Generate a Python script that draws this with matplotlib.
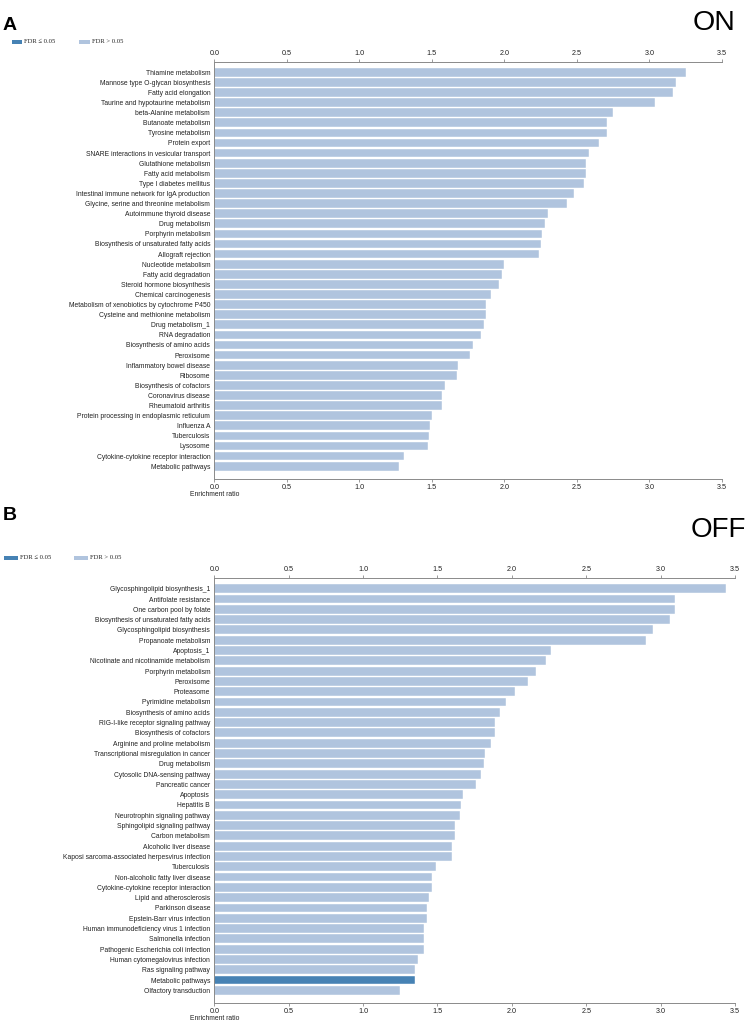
import matplotlib
matplotlib.use("Agg")
import matplotlib.pyplot as plt
from matplotlib.patches import Rectangle

# ---------------- data ----------------
on_terms = [
    "Thiamine metabolism", "Mannose type O-glycan biosynthesis", "Fatty acid elongation",
    "Taurine and hypotaurine metabolism", "beta-Alanine metabolism", "Butanoate metabolism",
    "Tyrosine metabolism", "Protein export", "SNARE interactions in vesicular transport",
    "Glutathione metabolism", "Fatty acid metabolism", "Type I diabetes mellitus",
    "Intestinal immune network for IgA production", "Glycine, serine and threonine metabolism",
    "Autoimmune thyroid disease", "Drug metabolism", "Porphyrin metabolism",
    "Biosynthesis of unsaturated fatty acids", "Allograft rejection", "Nucleotide metabolism",
    "Fatty acid degradation", "Steroid hormone biosynthesis", "Chemical carcinogenesis",
    "Metabolism of xenobiotics by cytochrome P450", "Cysteine and methionine metabolism",
    "Drug metabolism_1", "RNA degradation", "Biosynthesis of amino acids", "Peroxisome",
    "Inflammatory bowel disease", "Ribosome", "Biosynthesis of cofactors", "Coronavirus disease",
    "Rheumatoid arthritis", "Protein processing in endoplasmic reticulum", "Influenza A",
    "Tuberculosis", "Lysosome", "Cytokine-cytokine receptor interaction", "Metabolic pathways",
]
on_ratio = [
    3.25, 3.18, 3.16, 3.04, 2.75, 2.71, 2.71, 2.65, 2.58, 2.56, 2.56, 2.55, 2.48, 2.43,
    2.30, 2.28, 2.26, 2.25, 2.24, 2.00, 1.98, 1.96, 1.91, 1.87, 1.87, 1.86, 1.84, 1.78,
    1.76, 1.68, 1.67, 1.59, 1.57, 1.57, 1.50, 1.49, 1.48, 1.47, 1.31, 1.27,
]
on_sig = [False] * 40

off_terms = [
    "Glycosphingolipid biosynthesis_1", "Antifolate resistance", "One carbon pool by folate",
    "Biosynthesis of unsaturated fatty acids", "Glycosphingolipid biosynthesis",
    "Propanoate metabolism", "Apoptosis_1", "Nicotinate and nicotinamide metabolism",
    "Porphyrin metabolism", "Peroxisome", "Proteasome", "Pyrimidine metabolism",
    "Biosynthesis of amino acids", "RIG-I-like receptor signaling pathway",
    "Biosynthesis of cofactors", "Arginine and proline metabolism",
    "Transcriptional misregulation in cancer", "Drug metabolism", "Cytosolic DNA-sensing pathway",
    "Pancreatic cancer", "Apoptosis", "Hepatitis B", "Neurotrophin signaling pathway",
    "Sphingolipid signaling pathway", "Carbon metabolism", "Alcoholic liver disease",
    "Kaposi sarcoma-associated herpesvirus infection", "Tuberculosis",
    "Non-alcoholic fatty liver disease", "Cytokine-cytokine receptor interaction",
    "Lipid and atherosclerosis", "Parkinson disease", "Epstein-Barr virus infection",
    "Human immunodeficiency virus 1 infection", "Salmonella infection",
    "Pathogenic Escherichia coli infection", "Human cytomegalovirus infection",
    "Ras signaling pathway", "Metabolic pathways", "Olfactory transduction",
]
off_ratio = [
    3.44, 3.10, 3.10, 3.06, 2.95, 2.90, 2.26, 2.23, 2.16, 2.11, 2.02, 1.96, 1.92, 1.89,
    1.89, 1.86, 1.82, 1.81, 1.79, 1.76, 1.67, 1.66, 1.65, 1.62, 1.62, 1.60, 1.60, 1.49,
    1.46, 1.46, 1.44, 1.43, 1.43, 1.41, 1.41, 1.41, 1.37, 1.35, 1.35, 1.25,
]
off_sig = [False] * 38 + [True, False]

xticks = [0.0, 0.5, 1.0, 1.5, 2.0, 2.5, 3.0, 3.5]
xticklabels = ["0.0", "0.5", "1.0", "1.5", "2.0", "2.5", "3.0", "3.5"]
legend_labels = ["FDR \u2264 0.05", "FDR > 0.05"]

# ---------------- style ----------------
LIGHT = "#b0c4de"
DARK = "#4682b4"
AXC = "#8a8a8a"
TXT = "#222222"
SANS = ["Liberation Sans", "DejaVu Sans"]
SERIF = ["Liberation Serif", "DejaVu Serif"]

W, H = 748, 1025
fig = plt.figure(figsize=(W / 100, H / 100), dpi=100)


def fx(px):
    return px / W


def fy(py):
    return 1 - py / H


def panel(left, right, top, bottom, terms, vals, sig, ylim_top, ylim_bot, lab_y):
    ax = fig.add_axes([fx(left), fy(bottom), fx(right - left), (bottom - top) / H])
    n = len(terms)
    ypos = list(range(n))
    colors = [DARK if s else LIGHT for s in sig]
    ax.barh(ypos, vals, height=0.86, color=colors, edgecolor="white", linewidth=0.3)
    ax.set_xlim(0, 3.5)
    ax.set_ylim(ylim_bot, ylim_top)
    ax.set_yticks(ypos)
    ax.set_yticklabels(terms, fontsize=4.9, family=SANS, color=TXT)
    ax.set_xticks(xticks)
    ax.set_xticklabels(xticklabels, fontsize=5.2, family=SANS, color=TXT)
    ax.tick_params(axis="x", top=True, labeltop=True, bottom=True, labelbottom=True,
                   length=2.5, width=0.6, color=AXC, pad=1.0, direction="out")
    ax.tick_params(axis="y", length=0, pad=3)
    for s in ("top", "bottom", "left"):
        ax.spines[s].set_color(AXC)
        ax.spines[s].set_linewidth(0.7)
    ax.spines["right"].set_visible(False)
    ax.patch.set_alpha(0)
    fig.text(fx(left), fy(lab_y), "Enrichment ratio", fontsize=4.9, family=SANS,
             color=TXT, ha="center", va="center")
    return ax


# Panel A
panel(214.3, 722, 61.7, 479.3, on_terms, on_ratio, on_sig, -1.05, 40.3, 494.5)
# Panel B
panel(214.3, 735, 577.7, 1003, off_terms, off_ratio, off_sig, -1.07, 40.23, 1018.5)

# Panel letters and titles
fig.text(fx(3), fy(25.5), "A", fontsize=14, fontweight="bold", family=SANS,
         ha="left", va="center", color="black")
fig.text(fx(3), fy(515), "B", fontsize=14, fontweight="bold", family=SANS,
         ha="left", va="center", color="black")
fig.text(fx(736), fy(23), "ON", fontsize=20.5, family=SANS, ha="right", va="center",
         color="black")
fig.text(fx(746), fy(530), "OFF", fontsize=20, family=SANS, ha="right", va="center",
         color="black")


def legend(y, rects):
    # rects: list of (x0, x1, text_x)
    for (x0, x1, tx), col, lab in zip(rects, [DARK, LIGHT], legend_labels):
        fig.add_artist(Rectangle((fx(x0), fy(y + 2.2)), fx(x1 - x0), 4.4 / H,
                                 transform=fig.transFigure, facecolor=col,
                                 edgecolor="none"))
        fig.text(fx(tx), fy(y), lab, fontsize=4.8, family=SERIF, color=TXT,
                 ha="left", va="center")


legend(41.8, [(11.7, 21.7, 23.5), (79, 89.5, 92)])
legend(557.7, [(4, 17.5, 19.5), (74, 88, 90)])

fig.savefig("out.png", dpi=100)
